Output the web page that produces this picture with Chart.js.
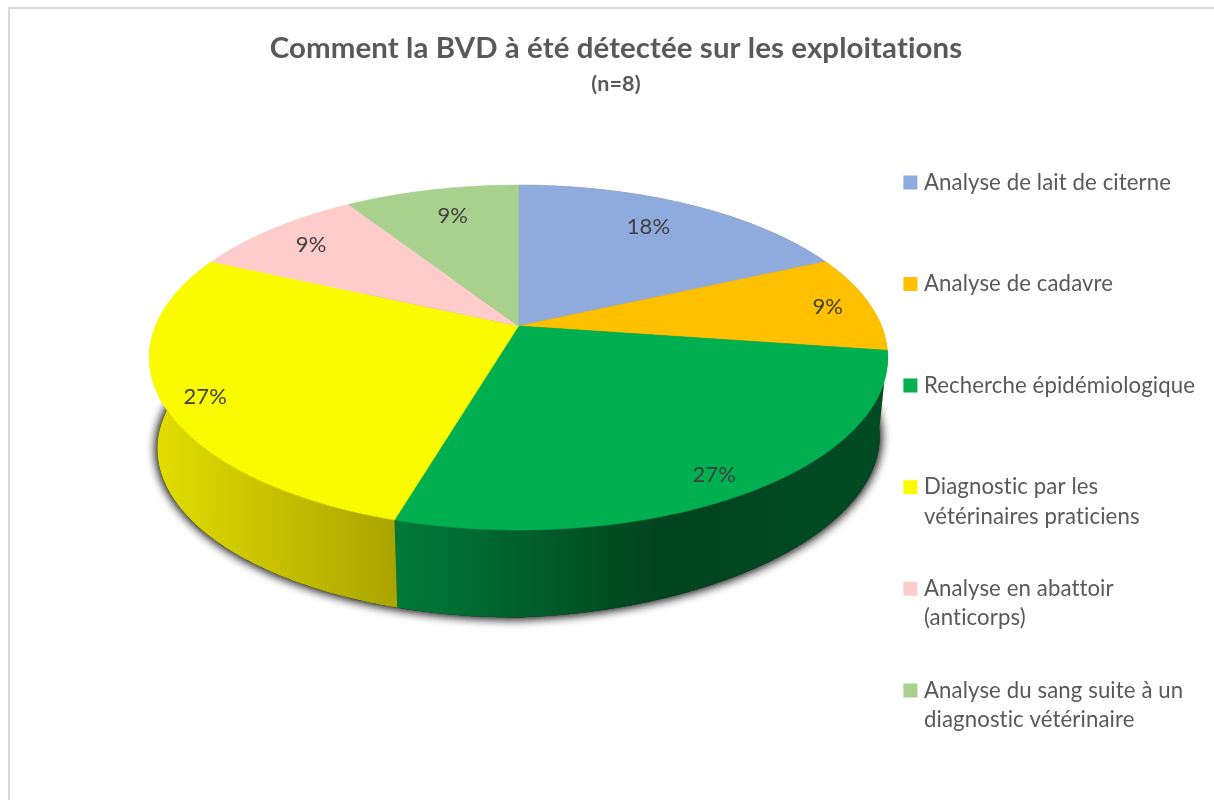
<!DOCTYPE html>
<html>
<head>
<meta charset="utf-8">
<title>BVD</title>
<script src="https://cdn.jsdelivr.net/npm/chart.js@4"></script>
<style>
    html, body { margin: 0; height: 100%; overflow: hidden; background: #fff; }
    #frame { position: absolute; left: 8px; top: 7px; width: 1400px; height: 1000px; border: 2px solid #d9d9d9; }
    #wrap { position: absolute; left: 0; top: 0; width: 1214px; height: 800px; }
</style>
</head>
<body>
<div id="frame"></div>
<div id="wrap"><canvas id="chart"></canvas></div>
<script>
    // Data
    const categories = [
        ['Analyse de lait de citerne', ''],
        ['Analyse de cadavre', ''],
        ['Recherche épidémiologique', ''],
        ['Diagnostic par les', 'vétérinaires praticiens'],
        ['Analyse en abattoir', '(anticorps)'],
        ['Analyse du sang suite à un', 'diagnostic vétérinaire']
    ];
    const answers = [2, 1, 3, 3, 1, 1];
    const colors = ['#8faadc', '#ffc000', '#00b050', '#fbfb00', '#ffcccc', '#a9d18e'];

    // Side wall shading, left to right
    const wallShades = [
        [[0, '#b38600'], [1, '#b38600']],
        [[0, '#b38600'], [1, '#b38600']],
        [[0, '#007a38'], [0.54, '#00431f'], [1, '#004c24']],
        [[0, '#e4de00'], [1, '#aaa400']],
        null,
        null
    ];

    // Where each percentage sits along the radius of its slice, then a small nudge in px
    const labelRadius = [0.75, 0.86, 0.88, 0.88, 0.84, 0.75];
    const labelNudge = [[-2, -5], [7, 1], [-4, 6], [-2, 6], [2, 2], [2, -4]];

    // Perspective view of the disc
    const view = { x: 518.5, y: 326, rx: 363, ry: 166.7, k: 0.1826, wallScale: 0.978, wallDrop: 92, wallTilt: 12 };

    function project(angle, r) {
        const u = r * Math.cos(angle);
        const v = r * Math.sin(angle);
        const d = 1 - view.k * v;
        return { x: view.x + view.rx * u / d, y: view.y + view.ry * v / d };
    }

    function lower(p) {
        const right = Math.max(0, (p.x - view.x) / view.rx);
        return {
            x: view.x + (p.x - view.x) * view.wallScale,
            y: view.y + (p.y - view.y) * view.wallScale + view.wallDrop - view.wallTilt * right
        };
    }

    function rim(start, end) {
        const steps = Math.ceil((end - start) * 120);
        const pts = [];
        for (let i = 0; i <= steps; i++) {
            pts.push(project(start + (end - start) * i / steps, 1));
        }
        return pts;
    }

    function trace(ctx, pts) {
        ctx.beginPath();
        pts.forEach(function (p, i) {
            if (i === 0) ctx.moveTo(p.x, p.y);
            else ctx.lineTo(p.x, p.y);
        });
        ctx.closePath();
    }

    const pie3d = {
        id: 'pie3d',
        // letterSpacing also turns off the "ti" ligature of Lato
        beforeLayout: function (chart) { chart.ctx.letterSpacing = '0.1px'; },
        beforeDraw: function (chart) { chart.ctx.letterSpacing = '0.1px'; },
        beforeDatasetsDraw: function (chart) {
            const ctx = chart.ctx;
            const arcs = chart.getDatasetMeta(0).data;
            const total = answers.reduce(function (a, b) { return a + b; }, 0);

            // Shadow under the base, two passes to get it dark enough
            ctx.save();
            ctx.shadowColor = 'rgba(0, 0, 0, 0.8)';
            ctx.shadowBlur = 11;
            ctx.fillStyle = '#333';
            trace(ctx, rim(0, Math.PI * 2).map(lower));
            ctx.fill();
            ctx.fill();
            ctx.restore();

            // Walls, then top face
            arcs.forEach(function (arc, i) {
                if (!wallShades[i]) return;
                const top = rim(arc.startAngle, arc.endAngle);
                const base = top.map(lower).reverse();
                const xs = top.concat(base).map(function (p) { return p.x; });
                const grad = ctx.createLinearGradient(Math.min.apply(null, xs), 0, Math.max.apply(null, xs), 0);
                wallShades[i].forEach(function (s) { grad.addColorStop(s[0], s[1]); });
                ctx.fillStyle = grad;
                trace(ctx, top.concat(base));
                ctx.fill();
            });

            arcs.forEach(function (arc, i) {
                const pts = [{ x: view.x, y: view.y }].concat(rim(arc.startAngle, arc.endAngle));
                ctx.fillStyle = colors[i];
                ctx.strokeStyle = colors[i];
                ctx.lineWidth = 0.6;
                trace(ctx, pts);
                ctx.fill();
                ctx.stroke();
            });

            // Percentages
            ctx.font = '22px Lato';
            ctx.fillStyle = '#404040';
            ctx.textAlign = 'center';
            ctx.textBaseline = 'middle';
            arcs.forEach(function (arc, i) {
                const p = project((arc.startAngle + arc.endAngle) / 2, labelRadius[i]);
                ctx.fillText(Math.round(answers[i] / total * 100) + '%', p.x + labelNudge[i][0], p.y + labelNudge[i][1]);
            });
            return false;
        }
    };

    // Legend boxes: small rect plus thick stroke, so the text can sit closer to the box
    function legendLabels(chart) {
        return Chart.overrides.doughnut.plugins.legend.labels.generateLabels(chart).map(function (item) {
            item.strokeStyle = item.fillStyle;
            item.lineWidth = 9;
            return item;
        });
    }

    new Chart(document.getElementById('chart'), {
        type: 'pie',
        data: {
            labels: categories,
            datasets: [{ data: answers, backgroundColor: colors, borderWidth: 0 }]
        },
        plugins: [pie3d],
        options: {
            responsive: true,
            maintainAspectRatio: false,
            animation: false,
            layout: { padding: { left: 27, right: 9, top: 0, bottom: 0 } },
            plugins: {
                title: {
                    display: true,
                    text: 'Comment la BVD à été détectée sur les exploitations',
                    color: '#595959',
                    font: { family: 'Lato', size: 29.4, weight: 'bold' },
                    padding: { top: 31, bottom: 4 }
                },
                subtitle: {
                    display: true,
                    text: '(n=8)',
                    color: '#595959',
                    font: { family: 'Lato', size: 21.5, weight: 'bold' },
                    padding: { top: 1, bottom: 31.2 }
                },
                legend: {
                    position: 'right',
                    align: 'start',
                    fullSize: false,
                    labels: {
                        boxWidth: 5,
                        boxHeight: 5,
                        padding: 43,
                        color: '#595959',
                        font: { family: 'Lato', size: 22.2, lineHeight: 1.32 },
                        generateLabels: legendLabels
                    }
                },
                tooltip: { enabled: false }
            }
        }
    });
</script>
</body>
</html>
